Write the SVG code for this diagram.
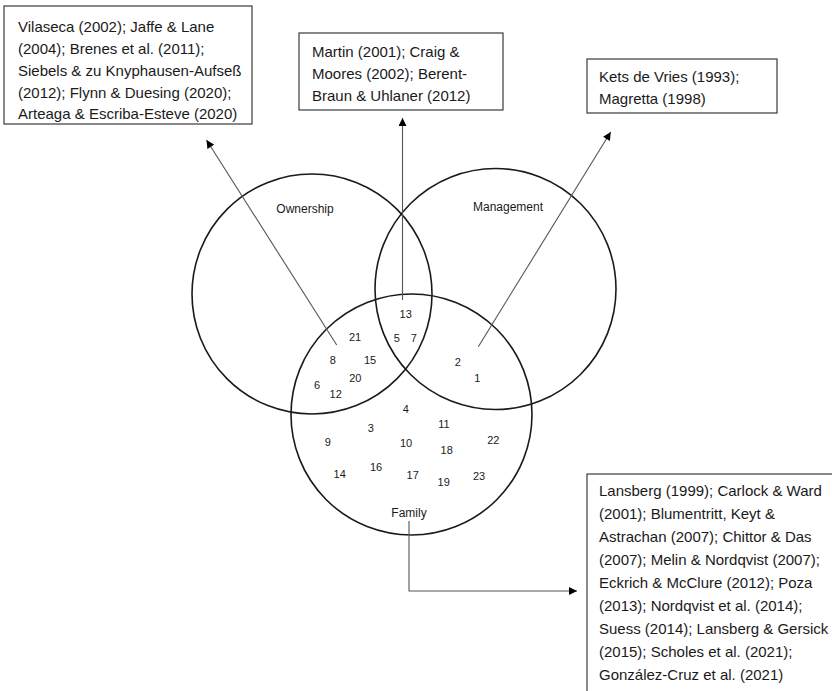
<svg xmlns="http://www.w3.org/2000/svg" width="832" height="691" viewBox="0 0 832 691">
  <style>
    .box { fill: #ffffff; stroke: #3a3a3a; stroke-width: 1.2; }
    .ref { font-family: "Liberation Sans", Arial, sans-serif; font-size: 15px; fill: #1a1a1a; }
    .set { fill: none; stroke: #1a1a1a; stroke-width: 1.6; }
    .lbl { font-family: "Liberation Sans", Arial, sans-serif; font-size: 12px; fill: #1a1a1a; text-anchor: middle; }
    .num { font-family: "Liberation Sans", Arial, sans-serif; font-size: 11px; fill: #1a1a1a; text-anchor: middle; }
    .link { fill: none; stroke: #555555; stroke-width: 1.1; }
  </style>
  <defs>
    <marker id="head" viewBox="0 0 10 10" refX="10" refY="5" markerWidth="9" markerHeight="8" markerUnits="userSpaceOnUse" orient="auto">
      <path d="M0,0 L10,5 L0,10 z" fill="#000000"/>
    </marker>
  </defs>
  <rect width="832" height="691" fill="#ffffff"/>

  <!-- three overlapping sets -->
  <g id="ownership">
    <circle class="set" cx="312" cy="294" r="120"/>
    <text class="lbl" x="305" y="213">Ownership</text>
  </g>
  <g id="management">
    <circle class="set" cx="495.5" cy="289" r="120.5"/>
    <text class="lbl" x="508" y="211">Management</text>
  </g>
  <g id="family">
    <circle class="set" cx="411.5" cy="414.5" r="120.5"/>
    <text class="lbl" x="409" y="517">Family</text>
  </g>

  <!-- study numbers placed in the regions -->
  <g id="numbers">
    <text class="num" x="405.7" y="318.3">13</text>
    <text class="num" x="355" y="340.7">21</text>
    <text class="num" x="396.7" y="342">5</text>
    <text class="num" x="413.7" y="342">7</text>
    <text class="num" x="332.7" y="364">8</text>
    <text class="num" x="370" y="364">15</text>
    <text class="num" x="457.7" y="365.7">2</text>
    <text class="num" x="355.3" y="382.3">20</text>
    <text class="num" x="477.3" y="382.3">1</text>
    <text class="num" x="317" y="389">6</text>
    <text class="num" x="335.7" y="398">12</text>
    <text class="num" x="405.7" y="413.3">4</text>
    <text class="num" x="444" y="428">11</text>
    <text class="num" x="370.7" y="432.3">3</text>
    <text class="num" x="327.7" y="446.3">9</text>
    <text class="num" x="406" y="447.3">10</text>
    <text class="num" x="446.7" y="454">18</text>
    <text class="num" x="493.3" y="444">22</text>
    <text class="num" x="339.7" y="478.3">14</text>
    <text class="num" x="376" y="471.3">16</text>
    <text class="num" x="412.7" y="479">17</text>
    <text class="num" x="443.7" y="485.7">19</text>
    <text class="num" x="479" y="479.7">23</text>
  </g>

  <!-- reference boxes -->
  <g id="box-ownership-family">
    <rect class="box" x="4" y="6" width="248" height="118"/>
    <text class="ref" x="18" y="32">Vilaseca (2002); Jaffe &amp; Lane</text>
    <text class="ref" x="18" y="54">(2004); Brenes et al. (2011);</text>
    <text class="ref" x="18" y="76">Siebels &amp; zu Knyphausen-Aufseß</text>
    <text class="ref" x="18" y="98">(2012); Flynn &amp; Duesing (2020);</text>
    <text class="ref" x="18" y="119">Arteaga &amp; Escriba-Esteve (2020)</text>
  </g>
  <g id="box-all-three">
    <rect class="box" x="299" y="33" width="204" height="77"/>
    <text class="ref" x="312" y="57">Martin (2001); Craig &amp;</text>
    <text class="ref" x="312" y="79">Moores (2002); Berent-</text>
    <text class="ref" x="312" y="101">Braun &amp; Uhlaner (2012)</text>
  </g>
  <g id="box-management-family">
    <rect class="box" x="587" y="59" width="190" height="54"/>
    <text class="ref" x="599" y="82">Kets de Vries (1993);</text>
    <text class="ref" x="599" y="104">Magretta (1998)</text>
  </g>
  <g id="box-family">
    <rect class="box" x="587" y="474" width="260" height="230"/>
    <text class="ref" x="599" y="496">Lansberg (1999); Carlock &amp; Ward</text>
    <text class="ref" x="599" y="519">(2001); Blumentritt, Keyt &amp;</text>
    <text class="ref" x="599" y="542">Astrachan (2007); Chittor &amp; Das</text>
    <text class="ref" x="599" y="565">(2007); Melin &amp; Nordqvist (2007);</text>
    <text class="ref" x="599" y="588">Eckrich &amp; McClure (2012); Poza</text>
    <text class="ref" x="599" y="611">(2013); Nordqvist et al. (2014);</text>
    <text class="ref" x="599" y="634">Suess (2014); Lansberg &amp; Gersick</text>
    <text class="ref" x="599" y="657">(2015); Scholes et al. (2021);</text>
    <text class="ref" x="599" y="680">González-Cruz et al. (2021)</text>
  </g>

  <!-- connectors from regions to their boxes -->
  <g id="connectors">
    <line class="link" x1="336.7" y1="345" x2="206.5" y2="140" marker-end="url(#head)"/>
    <line class="link" x1="402.5" y1="300" x2="402.5" y2="118" marker-end="url(#head)"/>
    <line class="link" x1="478.3" y1="346.7" x2="610.7" y2="132" marker-end="url(#head)"/>
    <polyline class="link" points="409,521 409,591 577,591" marker-end="url(#head)"/>
  </g>
</svg>
